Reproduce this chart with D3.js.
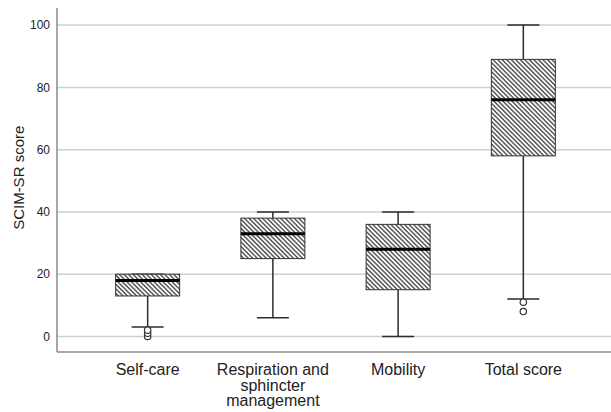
<!DOCTYPE html>
<html>
<head>
<meta charset="utf-8">
<script src="https://cdn.jsdelivr.net/npm/d3@7"></script>
<style>
  body { margin: 0; background: #fff; }
  text { font-family: "Liberation Sans", Arial, sans-serif; fill: #222; }
</style>
</head>
<body>
<div id="chart"></div>
<script>
// Box plot summaries
const categories = ["Self-care", "Respiration and sphincter management", "Mobility", "Total score"];
const labelLines = [["Self-care"], ["Respiration and", "sphincter", "management"], ["Mobility"], ["Total score"]];
const whiskerLow = [3, 6, 0, 12];
const q1 = [13, 25, 15, 58];
const median = [18, 33, 28, 76];
const q3 = [20, 38, 36, 89];
const whiskerHigh = [20, 40, 40, 100];
const outliers = [[0, 1, 2], [], [], [11, 8]];
const yTicks = [0, 20, 40, 60, 80, 100];

const width = 611, height = 412;
const margin = {top: 8, right: 0, bottom: 60, left: 57};

const svg = d3.select("#chart").append("svg")
    .attr("width", width)
    .attr("height", height);

// diagonal hatch fill
const pattern = svg.append("defs").append("pattern")
    .attr("id", "hatch")
    .attr("patternUnits", "userSpaceOnUse")
    .attr("width", 3.2)
    .attr("height", 3.2)
    .attr("patternTransform", "rotate(45)");
pattern.append("rect").attr("width", 3.2).attr("height", 3.2).attr("fill", "#fff");
pattern.append("line")
    .attr("x1", 0).attr("x2", 3.2)
    .attr("y1", 0.7).attr("y2", 0.7)
    .attr("stroke", "#3f3f3f")
    .attr("stroke-width", 1.3);

const y = d3.scaleLinear()
    .domain([-5, 105.5])
    .range([height - margin.bottom, margin.top]);

const x = d3.scalePoint()
    .domain(categories)
    .range([margin.left + 3, width])
    .padding(0.7);

const boxW = 64, capW = 32;

// gridlines
svg.append("g")
    .selectAll("line")
    .data(yTicks)
    .join("line")
    .attr("x1", margin.left)
    .attr("x2", width)
    .attr("y1", d => y(d))
    .attr("y2", d => y(d))
    .attr("stroke", "#cfcfcf")
    .attr("stroke-width", 1.5);

// y axis labels
svg.append("g")
    .selectAll("text")
    .data(yTicks)
    .join("text")
    .attr("x", margin.left - 7)
    .attr("y", d => y(d))
    .attr("dy", "0.35em")
    .attr("text-anchor", "end")
    .attr("font-size", 12)
    .text(d => d);

svg.append("text")
    .attr("transform", `translate(24,${y(50) - 3}) rotate(-90)`)
    .attr("text-anchor", "middle")
    .attr("font-size", 15)
    .text("SCIM-SR score");

// axis lines
svg.append("line")
    .attr("x1", margin.left).attr("x2", margin.left)
    .attr("y1", margin.top).attr("y2", height - margin.bottom)
    .attr("stroke", "#8a8a8a").attr("stroke-width", 1.5);
svg.append("line")
    .attr("x1", margin.left).attr("x2", width)
    .attr("y1", height - margin.bottom).attr("y2", height - margin.bottom)
    .attr("stroke", "#8a8a8a").attr("stroke-width", 1.5);

// boxes
const boxes = svg.append("g")
    .selectAll("g")
    .data(categories)
    .join("g");

boxes.append("line")
    .attr("x1", d => x(d)).attr("x2", d => x(d))
    .attr("y1", (d, i) => y(whiskerLow[i]))
    .attr("y2", (d, i) => y(whiskerHigh[i]))
    .attr("stroke", "#2b2b2b").attr("stroke-width", 1.5);

boxes.append("line")
    .attr("x1", d => x(d) - capW / 2).attr("x2", d => x(d) + capW / 2)
    .attr("y1", (d, i) => y(whiskerLow[i])).attr("y2", (d, i) => y(whiskerLow[i]))
    .attr("stroke", "#2b2b2b").attr("stroke-width", 1.5);

boxes.append("line")
    .attr("x1", d => x(d) - capW / 2).attr("x2", d => x(d) + capW / 2)
    .attr("y1", (d, i) => y(whiskerHigh[i])).attr("y2", (d, i) => y(whiskerHigh[i]))
    .attr("stroke", "#2b2b2b").attr("stroke-width", 1.5);

boxes.append("rect")
    .attr("x", d => x(d) - boxW / 2)
    .attr("width", boxW)
    .attr("y", (d, i) => y(q3[i]))
    .attr("height", (d, i) => y(q1[i]) - y(q3[i]))
    .attr("fill", "url(#hatch)")
    .attr("stroke", "#333")
    .attr("stroke-width", 1);

boxes.append("line")
    .attr("x1", d => x(d) - boxW / 2).attr("x2", d => x(d) + boxW / 2)
    .attr("y1", (d, i) => y(median[i])).attr("y2", (d, i) => y(median[i]))
    .attr("stroke", "#000").attr("stroke-width", 3);

// outliers
boxes.each(function(d, i) {
    d3.select(this).selectAll("circle")
        .data(outliers[i])
        .join("circle")
        .attr("cx", x(d))
        .attr("cy", v => y(v))
        .attr("r", 3.2)
        .attr("fill", "#fff")
        .attr("stroke", "#333")
        .attr("stroke-width", 1.2);
});

// x labels
svg.append("g")
    .selectAll("text")
    .data(categories)
    .join("text")
    .attr("x", d => x(d))
    .attr("y", 375)
    .attr("text-anchor", "middle")
    .attr("font-size", 16)
    .each(function(d, i) {
        d3.select(this).selectAll("tspan")
            .data(labelLines[i])
            .join("tspan")
            .attr("x", x(d))
            .attr("dy", (t, j) => j === 0 ? 0 : 15.5)
            .text(t => t);
    });
</script>
</body>
</html>
